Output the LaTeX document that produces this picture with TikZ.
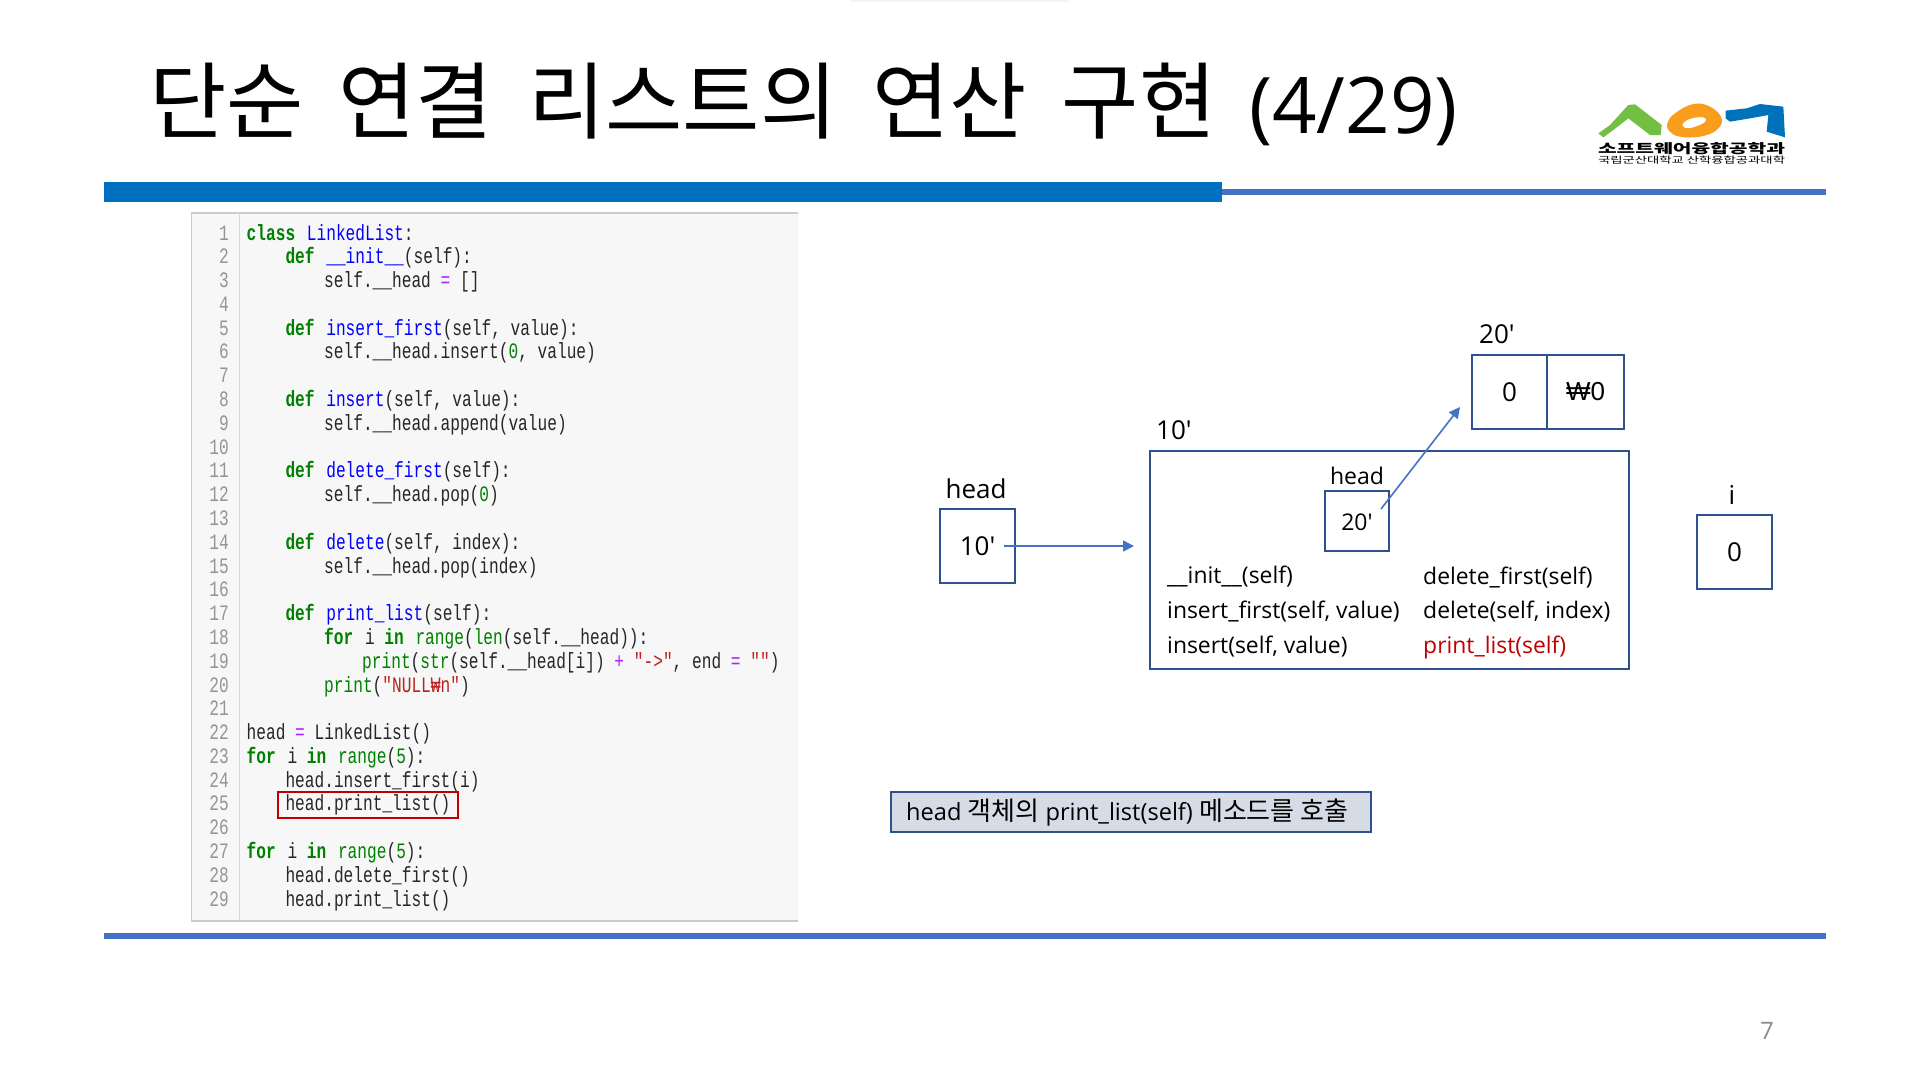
\documentclass[tikz,border=0pt]{standalone}
\usepackage{fontspec}
\usetikzlibrary{arrows.meta}
\setmainfont{Open Sans}
\newfontfamily\krfont{Noto Sans CJK KR}
\newfontfamily\wonfont{Liberation Sans}
\newfontfamily\codefont[FakeStretch=0.735]{Liberation Mono}
\definecolor{barblue}{HTML}{0070C0}
\definecolor{lineblue}{HTML}{4472C4}
\definecolor{edgeblue}{HTML}{2F528F}
\definecolor{kw}{HTML}{008000}
\definecolor{fn}{HTML}{0000FF}
\definecolor{op}{HTML}{AA22FF}
\definecolor{strc}{HTML}{BA2121}
\definecolor{redtxt}{HTML}{C00000}
\definecolor{logog}{HTML}{72BF44}
\definecolor{logoo}{HTML}{F99D1C}
\definecolor{logob}{HTML}{0072BC}
\definecolor{callfill}{HTML}{D6DCE5}
\newcommand{\fsz}[1]{\fontsize{#1}{#1}\selectfont}
\newcommand{\K}[1]{\textcolor{kw}{\bfseries #1}\hspace{2pt}}
\newcommand{\B}[1]{\textcolor{kw}{#1}}
\newcommand{\F}[1]{\textcolor{fn}{#1}}
\newcommand{\OP}[1]{\textcolor{op}{#1}}
\newcommand{\ST}[1]{\textcolor{strc}{#1}}
\newcommand{\cl}[3]{\node[codest] (c#1) at (#2,{240+(#1-1)*23.79}) {#3};}
\tikzset{
  codest/.style={anchor=base west,inner sep=0pt,text=black!85,font=\codefont\fsz{22}},
  numst/.style={anchor=base east,inner sep=0pt,text=black!42,font=\codefont\fsz{22}},
  boxst/.style={draw=edgeblue,line width=2pt,inner sep=0pt,font=\fsz{26}},
  labelst/.style={inner sep=0pt,font=\fsz{26}},
  methodst/.style={anchor=west,inner sep=0pt,font=\fsz{22.9}},
  linkst/.style={draw=lineblue,line width=1.6pt,-{Triangle[length=11pt,width=11pt]}}
}
\begin{document}
\begin{tikzpicture}[x=1pt,y=-1pt]
\useasboundingbox (0,0) rectangle (1920,1080);
\fill[white] (0,0) rectangle (1920,1080);
\fill[black!4] (850,0) rectangle (1069,2);
% title
\node[anchor=base west,inner sep=0pt,font=\krfont\fsz{84}] (title) at (149,132) {\spaceskip=35pt 단순 연결 리스트의 연산 구현};
\node[anchor=base west,inner sep=0pt,font=\fsz{78}] (titlenum) at (1249,133) {(4/29)};
% bars
\fill[lineblue] (1222,189) rectangle (1826,195);
\fill[barblue] (104,182) rectangle (1222,202);
\fill[lineblue] (104,933) rectangle (1826,939);
% logo
\begin{scope}[shift={(1560,80)},x=0.33333pt,y=-0.33333pt]
\fill[logog] (115,160) -- (150,135) -- (205,75) -- (225,73) -- (260,100) -- (305,135) -- (302,165) -- (270,165) -- (205,115) -- (160,150) -- (130,172) -- cycle;
\fill[logoo,even odd rule] plot[smooth cycle,tension=0.7] coordinates {(322,130) (345,100) (400,72) (450,80) (485,115) (470,150) (420,170) (360,170) (330,155)}
  plot[smooth cycle,tension=0.7] coordinates {(370,128) (395,115) (430,112) (438,122) (420,135) (385,145) (370,140)};
\fill[logob] (497,92) -- (560,85) -- (600,72) -- (670,80) -- (675,172) -- (620,155) -- (625,105) -- (570,115) -- (510,125) -- (497,115) -- cycle;
\end{scope}
\node[inner sep=0pt] (logo1) at (1691.5,149) {\resizebox{187pt}{11pt}{\krfont\bfseries 소프트웨어융합공학과}};
\node[inner sep=0pt] (logo2) at (1691.5,160.5) {\resizebox{187pt}{7.5pt}{\krfont 국립군산대학교 산학융합공과대학}};
% code panel
\fill[black!3] (191.5,213) rectangle (798,921);
\draw[black!20,line width=1.5pt] (798,213) -- (191.5,213) -- (191.5,921) -- (798,921);
\draw[black!15,line width=1pt] (239,213) -- (239,921);
\foreach \n in {1,...,29}{
  \node[numst] (n\n) at (229,{240+(\n-1)*23.79}) {\n};
}
\cl{1}{246.5}{\K{class} \F{LinkedList}:}
\cl{2}{285.3}{\K{def} \F{\_\_init\_\_}(self):}
\cl{3}{324}{self.\_\_head \OP{=} []}
\cl{5}{285.3}{\K{def} \F{insert\_first}(self, value):}
\cl{6}{324}{self.\_\_head.insert(\B{0}, value)}
\cl{8}{285.3}{\K{def} \F{insert}(self, value):}
\cl{9}{324}{self.\_\_head.append(value)}
\cl{11}{285.3}{\K{def} \F{delete\_first}(self):}
\cl{12}{324}{self.\_\_head.pop(\B{0})}
\cl{14}{285.3}{\K{def} \F{delete}(self, index):}
\cl{15}{324}{self.\_\_head.pop(index)}
\cl{17}{285.3}{\K{def} \F{print\_list}(self):}
\cl{18}{324}{\K{for} i \K{in} \B{range}(\B{len}(self.\_\_head)):}
\cl{19}{362}{\B{print}(\B{str}(self.\_\_head[i]) \OP{+} \ST{"->"}, end \OP{=} \ST{""})}
\cl{20}{324}{\B{print}(\ST{"NULL₩n"})}
\cl{22}{246.5}{head \OP{=} LinkedList()}
\cl{23}{246.5}{\K{for} i \K{in} \B{range}(\B{5}):}
\cl{24}{285.3}{head.insert\_first(i)}
\cl{25}{285.3}{head.print\_list()}
\cl{27}{246.5}{\K{for} i \K{in} \B{range}(\B{5}):}
\cl{28}{285.3}{head.delete\_first()}
\cl{29}{285.3}{head.print\_list()}
\node[draw=redtxt,line width=2pt,minimum width=179.5pt,minimum height=26pt,inner sep=0pt] (hl) at (367.8,805) {};
% diagram
\node[labelst] (headlab) at (976,488.5) {head};
\node[boxst,minimum width=75pt,minimum height=74pt] (headbox) at (977.5,546) {10′};
\node[labelst,anchor=west] (tenlab) at (1156,430) {10′};
\node[draw=edgeblue,line width=2pt,minimum width=479pt,minimum height=218pt,inner sep=0pt] (obj) at (1389.5,560) {};
\node[labelst,font=\fsz{23}] (innerlab) at (1357,476) {head};
\node[boxst,font=\fsz{23},minimum width=64pt,minimum height=60pt,text depth=0pt] (innerbox) at (1357,521) {\raisebox{-1.5pt}{20′}};
\node[labelst,anchor=west] (twentylab) at (1479,334) {20′};
\node[boxst,minimum width=75pt,minimum height=74pt] (cell0) at (1509.5,392) {0};
\node[boxst,minimum width=77pt,minimum height=74pt] (cell1) at (1585.5,392) {\wonfont ₩0};
\node[labelst] (ilab) at (1732,495) {i};
\node[boxst,minimum width=75pt,minimum height=74pt] (ibox) at (1734.5,552) {\raisebox{-1pt}{0}};
\node[methodst] (m1) at (1167,577) {\_\_init\_\_(self)};
\node[methodst] (m2) at (1167,611.5) {insert\_first(self, value)};
\node[methodst] (m3) at (1167,647) {insert(self, value)};
\node[methodst] (m4) at (1423,578) {delete\_first(self)};
\node[methodst] (m5) at (1423,611.5) {delete(self, index)};
\node[methodst,text=redtxt] (m6) at (1423,647) {print\_list(self)};
% connectors
\coordinate (a1s) at (1004,546);
\coordinate (a1e) at (1134,546);
\coordinate (a2s) at (1381,509);
\coordinate (a2e) at (1460,407);
\draw[linkst] (a1s) -- (a1e);
\draw[linkst] (a2s) -- (a2e);
% callout
\node[draw=edgeblue,fill=callfill,line width=2pt,minimum width=480pt,minimum height=40pt,inner sep=0pt] (call) at (1131,812) {};
\node[anchor=west,inner sep=0pt,font=\fsz{23.6}] (calltext) at (906,813) {head {\krfont\fsz{26}객체의} print\_list(self) {\krfont\fsz{26}메소드를 호출}};
% page number
\node[inner sep=0pt,text=black!45,font=\fsz{24}] (page) at (1767,1031) {7};
\end{tikzpicture}
\end{document}
